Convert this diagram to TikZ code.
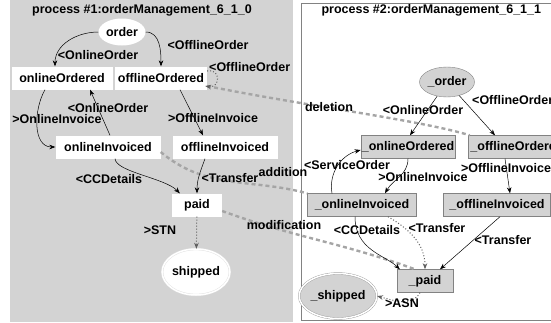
\documentclass[tikz,border=0pt]{standalone}
\usepackage{fontspec}
\setmainfont{Liberation Sans}
\usetikzlibrary{shapes.geometric,arrows.meta}
\definecolor{panelgray}{RGB}{211,211,211}
\definecolor{rimgray}{RGB}{130,130,130}
\definecolor{diffgray}{RGB}{165,165,165}
\definecolor{dotgray}{RGB}{95,95,95}
\begin{document}
\begin{tikzpicture}[x=1pt,y=1pt,>={Stealth[length=6pt,width=4.5pt]},
	every node/.style={font=\fontsize{12.5}{14}\selectfont\bfseries},
	lstate/.style={fill=white,inner xsep=1pt,inner ysep=2pt,minimum height=23pt},
	rstate/.style={fill=panelgray,draw=rimgray,inner xsep=1pt,inner ysep=2pt,minimum height=23pt},
	lbl/.style={inner sep=0pt},
	trans/.style={->,line width=0.5pt},
	silent/.style={->,dotted,line width=1pt,dotgray},
	diff/.style={diffgray,line width=2.4pt,dash pattern=on 4pt off 3pt}]
	\useasboundingbox (0,0) rectangle (551,-322);
	\clip (0,0) rectangle (551,-322);
	% the two panels
	\fill[panelgray] (10,0) rectangle (293,-322);
	\draw[rimgray,line width=0.8pt] (301,-3) rectangle (600,-320);
	\node (title1) at (142,-10) {process \#1:orderManagement\_6\_1\_0};
	\node[anchor=west] (title2) at (318,-10) {process \#2:orderManagement\_6\_1\_1};
	% process 1
	\node[ellipse,fill=white,minimum width=47pt,minimum height=27pt,inner sep=0pt] (order) at (122,-32) {order};
	\node[lstate,minimum width=101pt] (onOrd) at (62,-78) {onlineOrdered};
	\node[lstate,minimum width=92pt] (offOrd) at (161,-78) {offlineOrdered};
	\node[lstate,minimum width=105pt] (onInv) at (108,-147) {onlineInvoiced};
	\node[lstate,minimum width=105pt] (offInv) at (225,-147) {offlineInvoiced};
	\node[lstate,minimum width=50pt] (paid) at (197,-205) {paid};
	\node[ellipse,fill=white,draw=gray!25,double=white,double distance=1.5pt,minimum width=66pt,minimum height=46pt,inner sep=0pt] (shipped) at (196,-272) {shipped};
	% process 2
	\node[ellipse,fill=panelgray,draw=rimgray,minimum width=50pt,minimum height=30pt,inner sep=0pt] (rOrder) at (447,-82) {\_order};
	\node[rstate,minimum width=91pt] (rOnOrd) at (408,-147) {\_onlineOrdered};
	\node[rstate,minimum width=98pt] (rOffOrd) at (517,-147) {\_offlineOrdered};
	\node[rstate,minimum width=109pt] (rOnInv) at (362,-205) {\_onlineInvoiced};
	\node[rstate,minimum width=107pt] (rOffInv) at (497,-205) {\_offlineInvoiced};
	\node[rstate,minimum width=56pt] (rPaid) at (425,-281) {\_paid};
	\node[ellipse,fill=panelgray,draw=rimgray!80,double=white,double distance=1.5pt,minimum width=62pt,minimum height=45pt,inner sep=0pt] (rShipped) at (338,-296) {\_shipped};
	% differences between the processes
	\draw[diff] ([yshift=-8pt]offOrd.east) .. controls (300,-105) and (420,-120) .. ([xshift=2pt]rOffOrd.north west);
	\node[lbl] (ldel) at (329,-107) {deletion};
	\draw[diff] ([yshift=-5pt]onInv.east) to[out=-40,in=165] (rOnInv.north west);
	\node[lbl] (ladd) at (283,-172) {addition};
	\draw[diff] ([yshift=-6pt]paid.east) to[out=-20,in=160] ([xshift=-10pt]rPaid.north);
	\node[lbl] (lmod) at (284,-225) {modification};
	% transitions of process 1
	\draw[trans] (order.west) to[out=180,in=90] ([xshift=-7pt]onOrd.north);
	\node[lbl] at (98,-55) {<OnlineOrder};
	\draw[trans] (order.east) to[out=0,in=90] (offOrd.north);
	\node[lbl] at (208,-45) {<OfflineOrder};
	\draw[silent] ([yshift=7pt]offOrd.east) to[out=10,in=-10,looseness=2.5] ([xshift=-2pt,yshift=-8pt]offOrd.east);
	\node[lbl,anchor=west] at (209,-67) {<OfflineOrder};
	\draw[trans] ([xshift=-17pt]onOrd.south) to[out=-120,in=180] (onInv.west);
	\node[lbl] at (57,-119) {>OnlineInvoice};
	\draw[trans] ([xshift=2pt]onInv.north) -- ([xshift=28pt]onOrd.south);
	\node[lbl] at (108,-108) {<OnlineOrder};
	\draw[trans] ([xshift=19pt]offOrd.south) -- ([xshift=-22pt]offInv.north);
	\node[lbl] at (213,-118) {>OfflineInvoice};
	\draw[trans] ([xshift=7pt]onInv.south) .. controls (116,-172) and (165,-178) .. ([xshift=8pt]paid.north west);
	\node[lbl] at (109,-179) {<CCDetails};
	\draw[trans] ([xshift=-20pt]offInv.south) to[out=-110,in=90] (paid.north);
	\node[lbl] at (230,-178) {<Transfer};
	\draw[silent] (paid) -- (shipped);
	\node[lbl] at (160,-230) {>STN};
	% transitions of process 2
	\draw[trans] (rOrder) -- ([xshift=2pt]rOnOrd.north);
	\node[lbl] at (423,-110) {<OnlineOrder};
	\draw[trans] (rOrder) -- ([xshift=-22pt]rOffOrd.north);
	\node[lbl,anchor=west] at (472,-100) {<OfflineOrder};
	\draw[trans] (rOnOrd.south) to[out=-90,in=60] ([xshift=23pt]rOnInv.north);
	\node[lbl] at (423,-177) {>OnlineInvoice};
	\draw[trans] ([xshift=-30pt]rOnInv.north) to[out=100,in=195] ([yshift=-3pt]rOnOrd.west);
	\node[lbl] at (347,-165) {<ServiceOrder};
	\draw[trans] ([xshift=-12pt]rOffOrd.south) -- ([xshift=13pt]rOffInv.north);
	\node[lbl] at (506,-168) {>OfflineInvoice};
	\draw[trans] ([xshift=-7pt]rOnInv.south) .. controls (355,-250) and (385,-255) .. ([xshift=3pt]rPaid.north west);
	\node[lbl] at (367,-230) {<CCDetails};
	\draw[silent] ([xshift=26pt]rOnInv.south) to[out=-30,in=90] (rPaid.north);
	\node[lbl] at (437,-228) {<Transfer};
	\draw[trans] ([xshift=3pt]rOffInv.south) -- ([xshift=15pt]rPaid.north);
	\node[lbl] at (503,-240) {<Transfer};
	\draw[silent] ([xshift=-5pt]rPaid.south) to[out=-120,in=-15] (rShipped.east);
	\node[lbl] at (402,-303) {>ASN};
\end{tikzpicture}
\end{document}
